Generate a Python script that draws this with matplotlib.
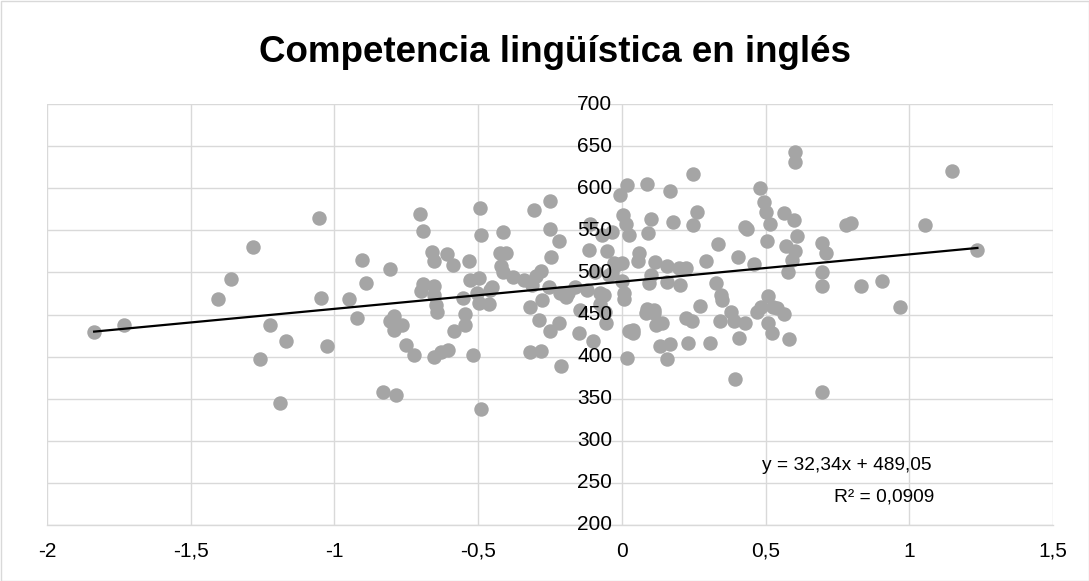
import matplotlib
matplotlib.use("Agg")
import matplotlib.pyplot as plt
import numpy as np

plt.rcParams['font.family'] = ['Liberation Sans', 'DejaVu Sans']

title = "Competencia lingüística en inglés"

x_vals = [
    -1.836, -1.733, -1.406, -1.359, -1.282, -1.225, -1.170, -1.260, -1.190,
    -1.055, -1.045, -1.025, -0.951, -0.921, -0.903, -0.890, -0.831, -0.808, -0.786, -0.806,
    -0.794, -0.765, -0.794, -0.750, -0.723,
    -0.702, -0.692, -0.692, -0.699, -0.662, -0.652, -0.652, -0.652, -0.647, -0.642, -0.652,
    -0.629, -0.607, -0.605, -0.589, -0.585, -0.551, -0.544, -0.544, -0.533, -0.530, -0.518,
    -0.504, -0.497, -0.496, -0.495, -0.491, -0.490, -0.463, -0.460, -0.452,
    -0.425, -0.420, -0.413, -0.413, -0.402, -0.380, -0.342, -0.321, -0.318, -0.312, -0.307,
    -0.300, -0.289, -0.283, -0.283, -0.278, -0.255, -0.251, -0.249, -0.249, -0.245, -0.220,
    -0.217, -0.214, -0.210, -0.196, -0.186, -0.162, -0.150, -0.147, -0.121, -0.115, -0.112,
    -0.100, -0.092, -0.075, -0.075, -0.069, -0.063, -0.057, -0.054, -0.051, -0.046, -0.034,
    -0.034, -0.028, -0.019, -0.007,
    0.005, 0.018, 0.001, 0.001, 0.007, 0.007, 0.013, 0.024, 0.024, 0.018, 0.038, 0.038,
    0.057, 0.061, 0.085, 0.088, 0.088, 0.090, 0.094, 0.103, 0.103, 0.111, 0.111, 0.117,
    0.120, 0.131, 0.140, 0.158, 0.158, 0.158, 0.169, 0.169, 0.177, 0.198, 0.201, 0.222,
    0.224, 0.231, 0.243, 0.247, 0.248, 0.262, 0.271, 0.294, 0.305, 0.329, 0.334, 0.343,
    0.344, 0.350, 0.379, 0.390, 0.393, 0.405, 0.407, 0.428, 0.436, 0.428, 0.461, 0.470,
    0.484, 0.479, 0.494, 0.503, 0.508, 0.507, 0.506, 0.517, 0.524, 0.525, 0.541, 0.564,
    0.564, 0.572, 0.578, 0.581, 0.593, 0.599, 0.602, 0.602, 0.602, 0.610, 0.697, 0.697,
    0.697, 0.697, 0.709, 0.779, 0.796, 0.833, 0.904, 0.967, 1.054, 1.147, 1.237,
]
y_vals = [
    429, 437, 468, 492, 530, 438, 418, 397, 345,
    565, 470, 412, 469, 446, 515, 487, 358, 504, 354, 442,
    448, 438, 432, 414, 402,
    569, 549, 486, 478, 524, 514, 484, 473, 461, 453, 400,
    406, 522, 408, 509, 430, 470, 451, 438, 514, 491, 402,
    475, 464, 493, 577, 545, 338, 463, 479, 483,
    523, 508, 548, 501, 523, 495, 491, 459, 406, 485, 574,
    496, 443, 407, 502, 467, 483, 430, 585, 552, 518, 440,
    537, 476, 389, 471, 476, 483, 428, 455, 479, 527, 558,
    419, 501, 475, 463, 544, 473, 453, 440, 525, 497, 548,
    499, 511, 509, 592,
    568, 604, 511, 490, 475, 469, 557, 545, 430, 398, 432, 428,
    513, 523, 452, 605, 456, 547, 488, 563, 497, 455, 452, 512,
    438, 412, 440, 508, 489, 397, 597, 415, 560, 505, 485, 446,
    505, 416, 442, 617, 556, 572, 460, 513, 416, 487, 534, 442,
    473, 467, 453, 442, 373, 518, 422, 554, 552, 440, 510, 453,
    459, 600, 584, 572, 472, 440, 537, 558, 428, 459, 458, 451,
    570, 531, 500, 421, 515, 562, 643, 631, 525, 543, 535, 501,
    484, 358, 523, 556, 559, 484, 490, 459, 556, 621, 527,
]

slope = 32.34
intercept = 489.05
eq_text = "y = 32,34x + 489,05"
r2_text = "R² = 0,0909"

x_ticks = [-2, -1.5, -1, -0.5, 0, 0.5, 1, 1.5]
x_tick_labels = ["-2", "-1,5", "-1", "-0,5", "0", "0,5", "1", "1,5"]
y_ticks = [200, 250, 300, 350, 400, 450, 500, 550, 600, 650, 700]
y_tick_labels = [str(v) for v in y_ticks]

grid_c = "#D9D9D9"
pt_c = "#A5A5A5"

fig = plt.figure(figsize=(10.89, 5.81), dpi=100)
ax = fig.add_axes([47 / 1089, 1 - 525 / 581, (1053 - 47) / 1089, (525 - 104) / 581])

ax.set_xlim(-2, 1.5)
ax.set_ylim(200, 700)
ax.set_xticks(x_ticks)
ax.set_yticks(y_ticks)
ax.set_xticklabels(x_tick_labels)
ax.set_yticklabels([])
ax.grid(True, color=grid_c, linewidth=1.0)
ax.set_axisbelow(True)
for s in ["top", "right", "left"]:
    ax.spines[s].set_visible(False)
ax.spines["bottom"].set_color(grid_c)
ax.spines["bottom"].set_linewidth(1.0)
ax.tick_params(axis="both", length=0, labelsize=15, colors="#000000")
ax.tick_params(axis="x", pad=12)

# y tick labels placed beside the vertical axis at x = 0, drawn above the markers
for v, lab in zip(y_ticks, y_tick_labels):
    ax.annotate(lab, xy=(0, v), xycoords="data", xytext=(-7, 0), textcoords="offset points",
                ha="right", va="center", fontsize=15, color="#000000", zorder=6)

ax.plot(x_vals, y_vals, linestyle="none", marker="o", markersize=9.4,
        markerfacecolor=pt_c, markeredgecolor=pt_c, zorder=3)

xs = np.array([min(x_vals), max(x_vals)])
ax.plot(xs, slope * xs + intercept, color="black", linewidth=1.6, zorder=4)

fig.text(932 / 1089, 1 - 465 / 581, eq_text, ha="right", va="center", fontsize=13.8)
fig.text(934 / 1089, 1 - 497 / 581, r2_text, ha="right", va="center", fontsize=13.8)

fig.text(555 / 1089, 1 - 52 / 581, title, ha="center", va="center", fontsize=26.5, fontweight="bold")

border = plt.Rectangle((0.5 / 1089, 0.5 / 581), 1 - 1 / 1089, 1 - 1 / 581, transform=fig.transFigure,
                       fill=False, edgecolor=grid_c, linewidth=1.0)
fig.add_artist(border)

fig.savefig("out.png", dpi=100, facecolor="white")
